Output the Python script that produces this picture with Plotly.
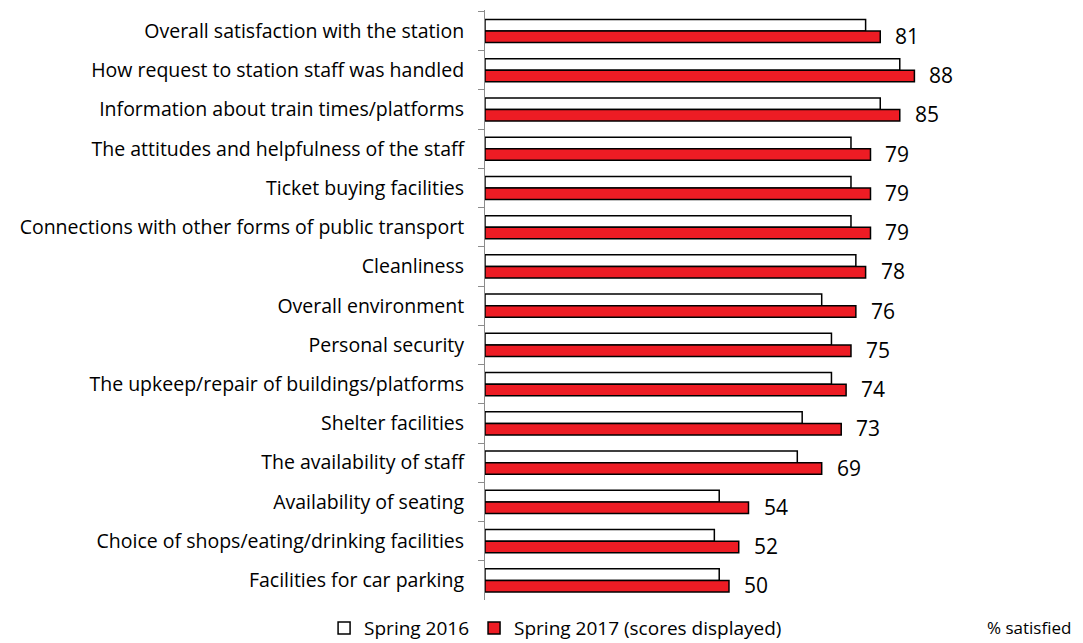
import plotly.graph_objects as go

categories = [
    "Overall satisfaction with the station",
    "How request to station staff was handled",
    "Information about train times/platforms",
    "The attitudes and helpfulness of the staff",
    "Ticket buying facilities",
    "Connections with other forms of public transport",
    "Cleanliness",
    "Overall environment",
    "Personal security",
    "The upkeep/repair of buildings/platforms",
    "Shelter facilities",
    "The availability of staff",
    "Availability of seating",
    "Choice of shops/eating/drinking facilities",
    "Facilities for car parking",
]
spring_2016 = [78, 85, 81, 75, 75, 75, 76, 69, 71, 71, 65, 64, 48, 47, 48]
spring_2017 = [81, 88, 85, 79, 79, 79, 78, 76, 75, 74, 73, 69, 54, 52, 50]

FONT = "Open Sans"

fig = go.Figure()
fig.add_trace(go.Bar(
    y=categories, x=spring_2016, orientation="h", name="Spring 2016",
    marker=dict(color="white", line=dict(color="black", width=1.5)),
))
fig.add_trace(go.Bar(
    y=categories, x=spring_2017, orientation="h", name="Spring 2017 (scores displayed)",
    marker=dict(color="#ED1C24", line=dict(color="black", width=1.5)),
))

# value labels next to the 2017 bars
for cat, v in zip(categories, spring_2017):
    fig.add_annotation(x=v, y=cat, text=str(v), showarrow=False,
                       xanchor="left", xshift=13, yshift=-5,
                       font=dict(family=FONT, size=21, color="black"))

fig.add_annotation(text="% satisfied", xref="paper", yref="paper",
                   x=1, y=-0.047, xanchor="right", yanchor="middle", showarrow=False,
                   font=dict(family=FONT, size=17, color="black"))

fig.update_layout(
    width=1083, height=643,
    margin=dict(l=485, r=10, t=10, b=43),
    plot_bgcolor="white", paper_bgcolor="white",
    barmode="group", bargap=0.41, bargroupgap=0,
    font=dict(family=FONT, size=19.5, color="black"),
    xaxis=dict(range=[0, 120.5], visible=False, fixedrange=True),
    yaxis=dict(autorange="reversed", showline=True, linecolor="#8c8c8c", linewidth=1,
               ticks="outside", tickson="boundaries", ticklen=6, tickcolor="#8c8c8c",
               showgrid=False, ticklabelstandoff=16, fixedrange=True),
    legend=dict(orientation="h", xref="container", yref="container",
                x=0.513, y=0.023, xanchor="center", yanchor="middle",
                font=dict(family=FONT, size=19), itemwidth=30),
    showlegend=True,
)

fig.write_html("out.html", config={"displayModeBar": False},
               post_script="document.body.style.margin='0px';")
